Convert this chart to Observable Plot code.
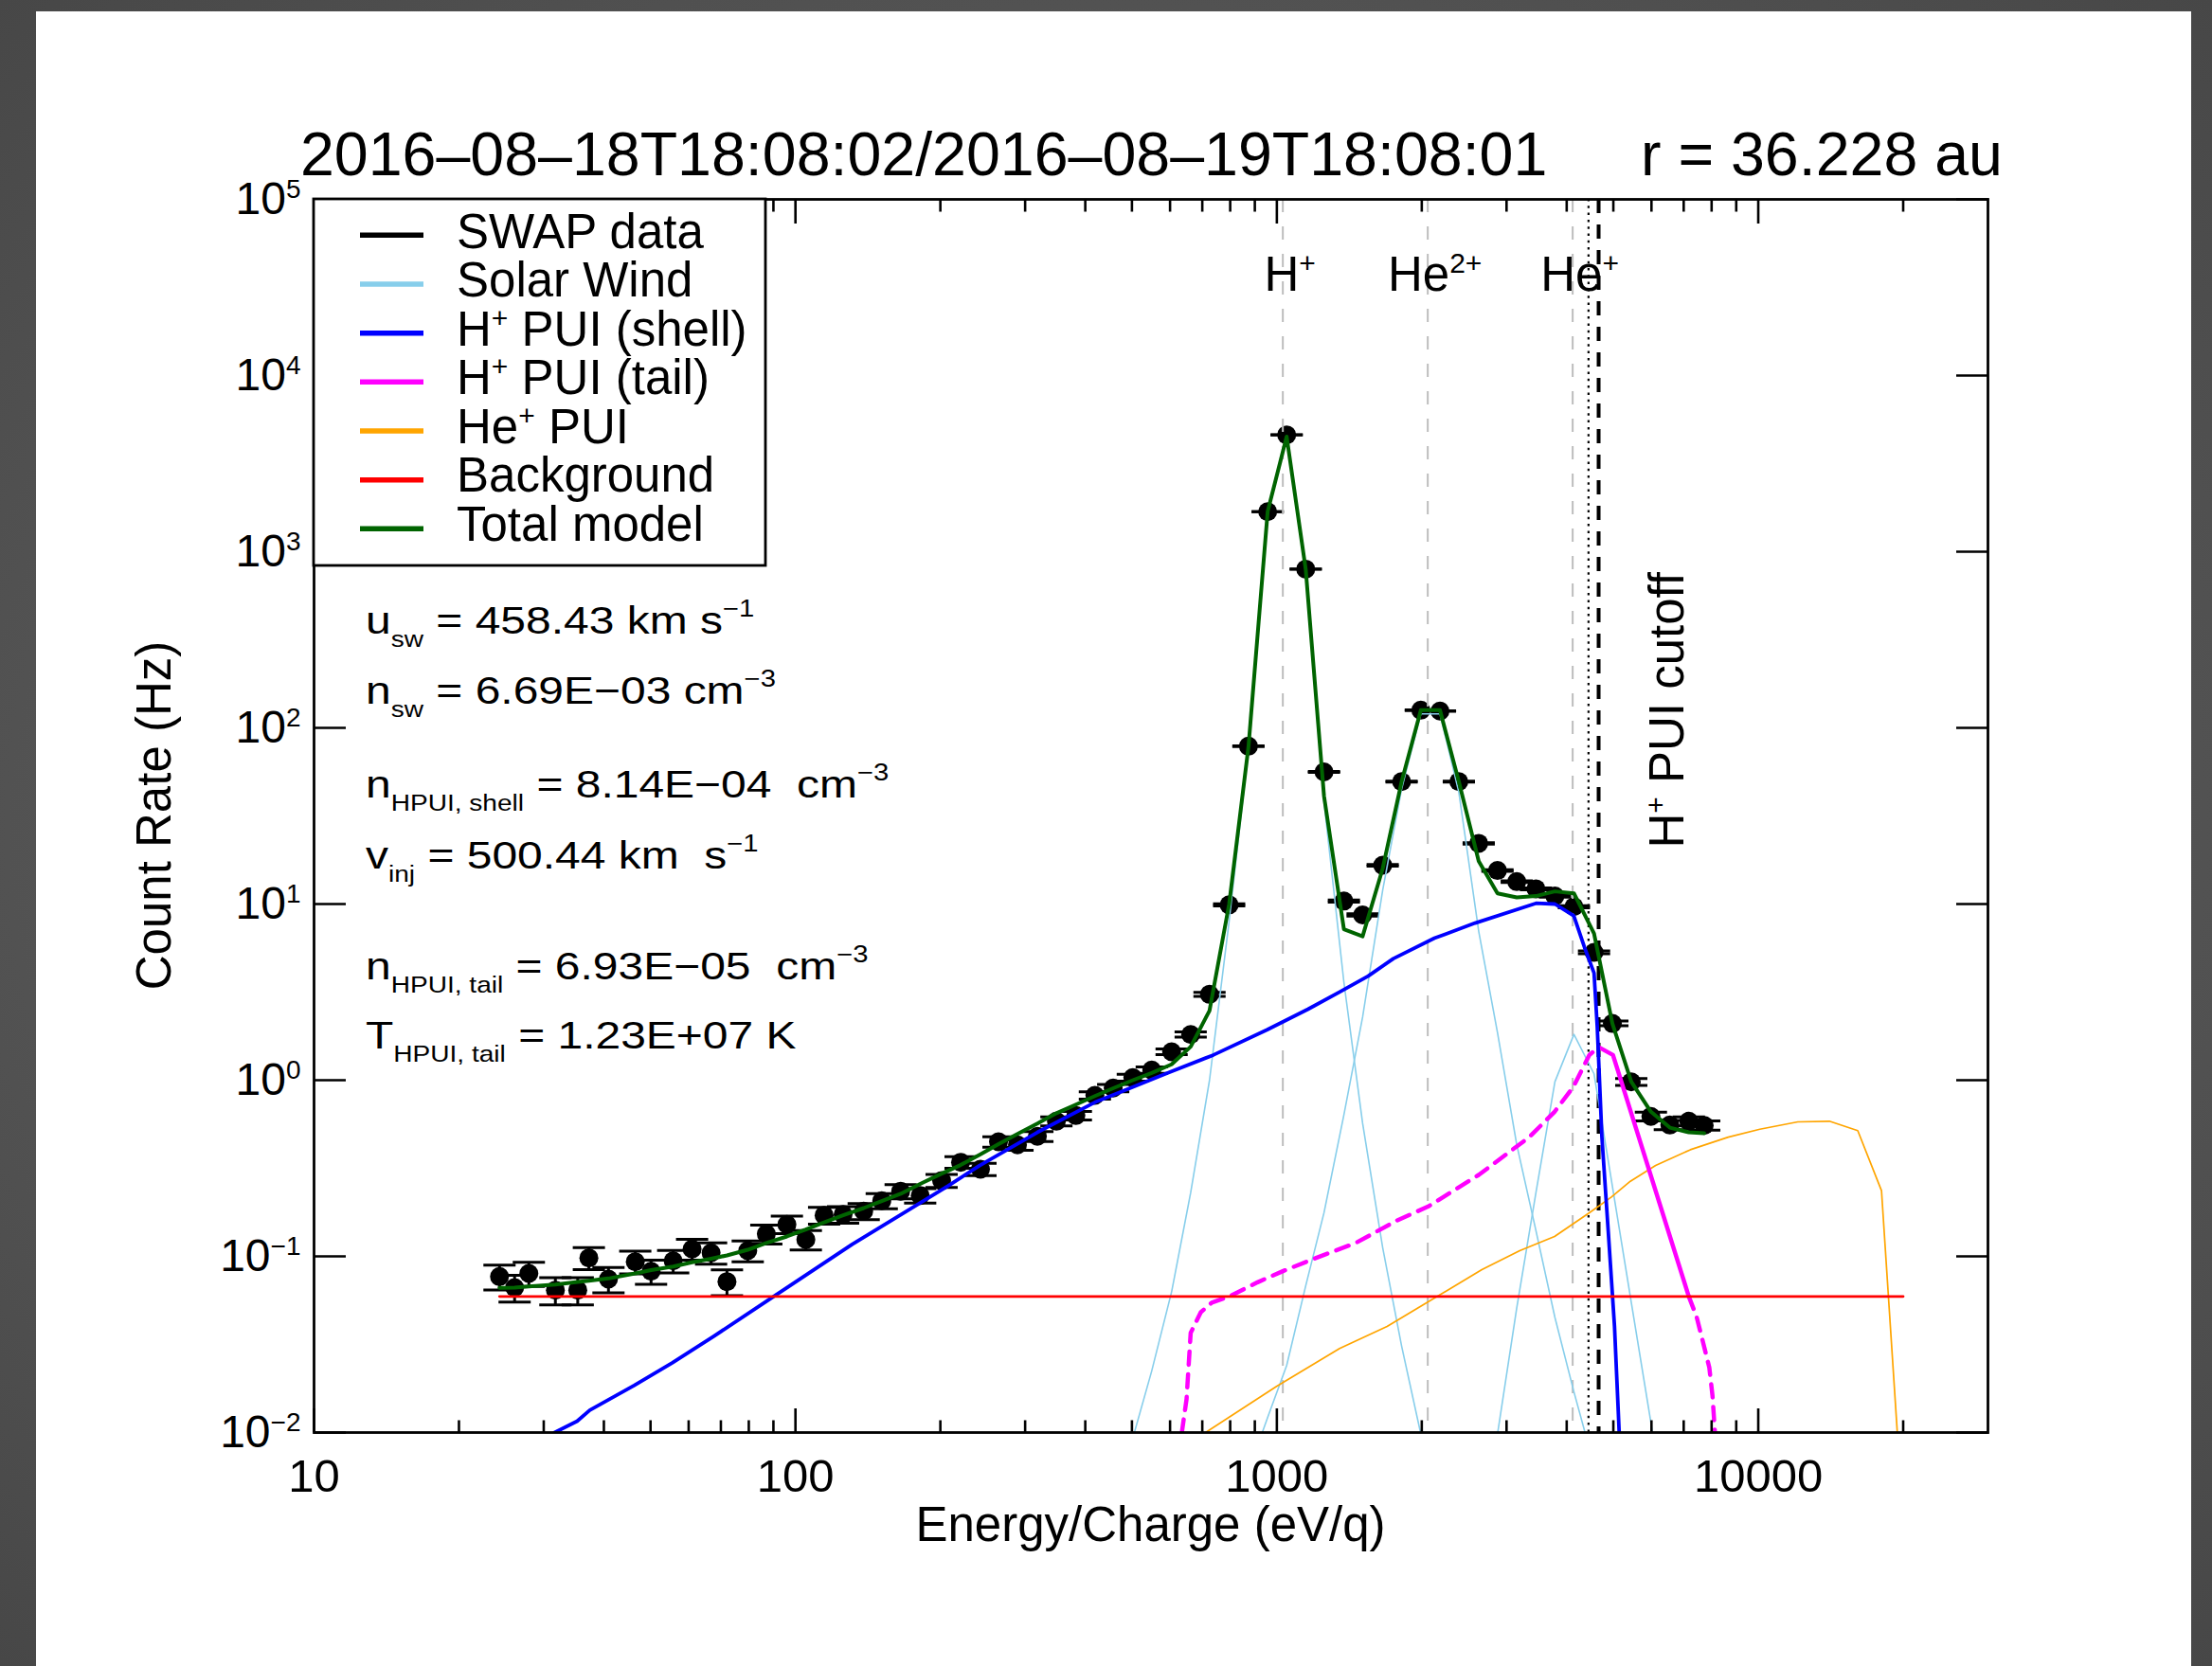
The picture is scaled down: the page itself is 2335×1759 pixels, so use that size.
<!DOCTYPE html>
<html><head><meta charset="utf-8">
<script src="https://cdn.jsdelivr.net/npm/d3@7"></script>
<script src="https://cdn.jsdelivr.net/npm/@observablehq/plot@0.6"></script>
<style>
html,body{margin:0;padding:0;}
body{width:2335px;height:1759px;overflow:hidden;position:relative;background:#4e4e4e;
 background-image:radial-gradient(ellipse at 50% 50%, #6c6c6c 0%, #474747 100%);
 font-family:"Liberation Sans",Arial,Helvetica,sans-serif;}
#panel{position:absolute;left:38px;top:12px;width:2275px;height:1747px;background:#fff;}
#chart{position:absolute;left:0;top:0;}
</style></head>
<body><div id="panel"></div><div id="chart"></div>
<script>
// ---------------- data ----------------
const energy = [24.28, 26.10, 27.94, 31.72, 35.30, 37.23, 40.89, 46.48, 50.13, 55.72,
  61.0, 66.8, 72.07, 79.6, 87.0, 96.0, 105.1, 114.7, 125.6, 138.6,
  151.1, 165.4, 181.6, 201.2, 220.3, 242.3, 264.1, 289.2, 318.1, 348.4,
  382.4, 418.8, 457.1, 502.1, 549.7, 604.5, 662.2, 724.6, 796, 873,
  957, 1048, 1148, 1253, 1378, 1507, 1659, 1816, 1991, 2182,
  2388, 2626, 2873, 3150, 3453, 3781, 4141, 4559, 4977, 5448,
  5984, 6551, 7173, 7722];
const countRate = [0.0768, 0.0665, 0.080, 0.0643, 0.0643, 0.098, 0.0743, 0.0932, 0.0823, 0.0943,
  0.110, 0.1047, 0.0719, 0.1077, 0.134, 0.1518, 0.1245, 0.171, 0.173, 0.1805,
  0.2068, 0.234, 0.2216, 0.269, 0.342, 0.3124, 0.447, 0.4294, 0.48, 0.585,
  0.63, 0.82, 0.9024, 1.034, 1.141, 1.45, 1.818, 3.073, 9.9, 78.7,
  1687, 4605, 796, 56.2, 10.4, 8.67, 16.6, 49.5, 126, 124.6,
  49.5, 22.1, 15.5, 13.4, 12.2, 11.1, 9.66, 5.32, 2.10, 0.979,
  0.6224, 0.5567, 0.585, 0.554];
const countErr = [0.0124, 0.0115, 0.0126, 0.0113, 0.0113, 0.0140, 0.0122, 0.0137, 0.0128, 0.0137,
  0.0148, 0.0145, 0.0120, 0.0147, 0.0164, 0.0174, 0.0158, 0.0185, 0.0186, 0.0190,
  0.0203, 0.0216, 0.0211, 0.0232, 0.0262, 0.0250, 0.0299, 0.0293, 0.0310, 0.0342,
  0.0355, 0.0405, 0.0425, 0.0455, 0.0478, 0.0539, 0.0603, 0.0784, 0.141, 0.397,
  1.84, 3.03, 1.26, 0.335, 0.144, 0.132, 0.182, 0.315, 0.502, 0.499,
  0.315, 0.210, 0.176, 0.164, 0.156, 0.149, 0.139, 0.103, 0.0648, 0.0442,
  0.0353, 0.0334, 0.0342, 0.0333];
const totalModel = [0.0662, 0.0664, 0.0675, 0.0692, 0.0715, 0.0728, 0.0749, 0.080, 0.0835, 0.0876,
  0.0925, 0.097, 0.1013, 0.109, 0.119, 0.1297, 0.142, 0.156, 0.171, 0.188,
  0.206, 0.2264, 0.258, 0.295, 0.33, 0.38, 0.434, 0.4955, 0.567, 0.65,
  0.727, 0.813, 0.90, 1.0, 1.10, 1.23, 1.55, 2.48, 10.0, 78,
  1690, 4498, 796, 41.0, 7.2, 6.55, 15.9, 49.5, 126, 126,
  49.5, 17.5, 11.5, 10.9, 11.1, 11.8, 11.5, 6.8, 2.1, 0.98,
  0.662, 0.538, 0.506, 0.5];

// Solar wind components (H+, He2+, He+)
const swHEnergy = [457.1, 502.1, 549.7, 604.5, 662.2, 724.6, 796, 873, 957, 1048, 1148, 1253, 1378, 1507, 1659, 1816, 1991, 2182];
const swHRate   = [0.003, 0.0093, 0.0224, 0.063, 0.23, 1.0, 8.0, 76, 1680, 4490, 790, 38, 3.6, 0.57, 0.112, 0.031, 0.0098, 0.003];
const swHe2Energy = [873, 957, 1048, 1148, 1253, 1378, 1507, 1659, 1816, 1991, 2182, 2388, 2626, 2873, 3150, 3453, 3781, 4141, 4559];
const swHe2Rate   = [0.006, 0.0122, 0.024, 0.068, 0.177, 0.635, 2.28, 12, 45, 120, 120, 43, 7.0, 1.86, 0.43, 0.14, 0.045, 0.017, 0.0065];
const swHe1Energy = [2626, 2873, 3150, 3453, 3781, 4141, 4559, 4977, 5448, 5984, 6551];
const swHe1Rate   = [0.003, 0.0098, 0.051, 0.23, 0.98, 1.82, 1.087, 0.25, 0.0547, 0.0114, 0.002];

// H+ PUI shell
const shellEnergy = [31.6, 35.2, 37.4, 46.2, 55.5, 67.9, 90.1, 131.1, 207.5, 241.3, 318.1, 418.8, 469.2, 597.2, 738.1, 954.4, 1161, 1350, 1547, 1746, 2125, 2581, 3454, 3781, 4138, 4357, 4559, 4629, 4734, 4880, 5028, 5142];
const shellRate   = [0.01, 0.0116, 0.0134, 0.0185, 0.0249, 0.0354, 0.0592, 0.117, 0.251, 0.328, 0.506, 0.749, 0.848, 1.108, 1.39, 1.934, 2.53, 3.17, 3.90, 4.90, 6.4, 7.8, 10.1, 10.0, 8.57, 5.66, 4.06, 2.02, 0.475, 0.138, 0.04, 0.01];

// H+ PUI tail (dashed below cutoff / below background, solid between)
const tailLowEnergy = [634.8, 649.3, 662.2, 695, 732.4, 796, 912, 1029, 1197, 1457, 1773, 2063, 2327, 2626, 2964, 3344, 3775, 4132, 4457, 4663];
const tailLowRate   = [0.01, 0.0155, 0.0368, 0.0482, 0.0546, 0.0592, 0.0713, 0.0824, 0.0972, 0.119, 0.1595, 0.192, 0.236, 0.29, 0.3715, 0.475, 0.662, 0.92, 1.39, 1.54];
const tailMidEnergy = [4663, 4991, 7173];
const tailMidRate   = [1.54, 1.39, 0.0592];
const tailHighEnergy = [7173, 7447, 7679, 7912, 8035, 8128];
const tailHighRate   = [0.0592, 0.0453, 0.0325, 0.0234, 0.0161, 0.01];

// He+ PUI
const hePuiEnergy = [711, 998.6, 1350, 1694, 2125, 2666, 3195, 3775, 4457, 4953, 5424, 6121, 7226, 8661, 10077, 12082, 14050, 16094, 18030, 19446];
const hePuiRate   = [0.01, 0.0183, 0.030, 0.040, 0.058, 0.084, 0.1077, 0.1297, 0.1766, 0.217, 0.267, 0.328, 0.403, 0.475, 0.527, 0.58, 0.585, 0.517, 0.236, 0.01];

// Background
const backgroundEnergy = [24.28, 20000];
const backgroundRate = [0.0592, 0.0592];

// reference energies
const ionEnergies = [1029, 2058, 4116];   // H+, He2+, He+
const ionLabels = [["H", "+"], ["He", "2+"], ["He", "+"]];
const dottedEnergy = [4440];
const cutoffEnergy = [4660];

// axes
const xMajor = [10, 100, 1000, 10000];
const xMinor = [20,30,40,50,60,70,80,90,200,300,400,500,600,700,800,900,2000,3000,4000,5000,6000,7000,8000,9000,20000];
const yMajor = [1e-2, 1e-1, 1e0, 1e1, 1e2, 1e3, 1e4, 1e5];
const yExp = ["\u22122", "\u22121", "0", "1", "2", "3", "4", "5"];

// ---------------- build ----------------
const FONT = '"Liberation Sans", Arial, Helvetica, sans-serif';
const pts = energy.map((E, i) => ({E, C: countRate[i], lo: countRate[i] - countErr[i], hi: countRate[i] + countErr[i]}));
const series = (es, cs) => es.map((E, i) => ({E, C: cs[i]}));
const hbar = {draw(ctx, size) { const w = Math.sqrt(size / Math.PI); ctx.moveTo(-w, 0); ctx.lineTo(w, 0); }};

const SKY = "#87CEEB", BLUE = "#0000FF", MAG = "#FF00FF", ORANGE = "#FFA500", RED = "#FF0000", GREEN = "#006400";

const chart = Plot.plot({
  width: 2335, height: 1759,
  marginLeft: 331, marginRight: 237, marginTop: 210, marginBottom: 247,
  style: {background: "transparent", fontFamily: FONT, color: "black", overflow: "visible"},
  x: {type: "log", domain: [10, 30000], label: null},
  y: {type: "log", domain: [0.01, 1e5], label: null},
  marks: [
    Plot.ruleX(pts, {x: "E", y1: "lo", y2: "hi", stroke: "black", strokeWidth: 3}),
    Plot.dot(pts, {x: "E", y: "lo", symbol: hbar, r: 17, stroke: "black", strokeWidth: 3, fill: "none"}),
    Plot.dot(pts, {x: "E", y: "hi", symbol: hbar, r: 17, stroke: "black", strokeWidth: 3, fill: "none"}),
    Plot.dot(pts, {x: "E", y: "C", r: 10, fill: "black", stroke: "none"}),
    Plot.ruleX(ionEnergies, {stroke: "#bdbdbd", strokeWidth: 2, strokeDasharray: "14,15"}),
    Plot.ruleX(dottedEnergy, {stroke: "black", strokeWidth: 2.2, strokeDasharray: "2.5,4.8"}),
    Plot.ruleX(cutoffEnergy, {stroke: "black", strokeWidth: 4, strokeDasharray: "15,12"}),
    Plot.line(series(swHEnergy, swHRate), {x: "E", y: "C", stroke: SKY, strokeWidth: 1.6, clip: true}),
    Plot.line(series(swHe2Energy, swHe2Rate), {x: "E", y: "C", stroke: SKY, strokeWidth: 1.6, clip: true}),
    Plot.line(series(swHe1Energy, swHe1Rate), {x: "E", y: "C", stroke: SKY, strokeWidth: 1.6, clip: true}),
    Plot.line(series(hePuiEnergy, hePuiRate), {x: "E", y: "C", stroke: ORANGE, strokeWidth: 1.7, clip: true}),
    Plot.line(series(tailLowEnergy, tailLowRate), {x: "E", y: "C", stroke: MAG, strokeWidth: 4.5, strokeDasharray: "14,10", clip: true}),
    Plot.line(series(tailMidEnergy, tailMidRate), {x: "E", y: "C", stroke: MAG, strokeWidth: 4.5, clip: true}),
    Plot.line(series(tailHighEnergy, tailHighRate), {x: "E", y: "C", stroke: MAG, strokeWidth: 4.5, strokeDasharray: "14,10", clip: true}),
    Plot.line(series(shellEnergy, shellRate), {x: "E", y: "C", stroke: BLUE, strokeWidth: 3.8, clip: true}),
    Plot.line(series(backgroundEnergy, backgroundRate), {x: "E", y: "C", stroke: RED, strokeWidth: 2.8, clip: true}),
    Plot.line(series(energy, totalModel), {x: "E", y: "C", stroke: GREEN, strokeWidth: 4, clip: true}),
    Plot.frame({stroke: "black", strokeWidth: 2.8}),
    // inward ticks
    Plot.axisX(xMajor, {anchor: "bottom", tickSize: -25, strokeWidth: 2.6, fill: "none", label: null}),
    Plot.axisX(xMinor, {anchor: "bottom", tickSize: -12.5, strokeWidth: 2.6, fill: "none", label: null}),
    Plot.axisX(xMajor, {anchor: "top", tickSize: -25, strokeWidth: 2.6, fill: "none", label: null}),
    Plot.axisX(xMinor, {anchor: "top", tickSize: -12.5, strokeWidth: 2.6, fill: "none", label: null}),
    Plot.axisY(yMajor, {anchor: "left", tickSize: -34, strokeWidth: 2.6, fill: "none", label: null}),
    Plot.axisY(yMajor, {anchor: "right", tickSize: -34, strokeWidth: 2.6, fill: "none", label: null}),
    // tick labels
    Plot.axisX(xMajor, {anchor: "bottom", tickSize: 0, tickPadding: 28, fontSize: 49, fill: "black", tickFormat: d => String(d), label: null}),
    Plot.axisY(yMajor, {anchor: "left", tickSize: 0, tickPadding: 14, fontSize: 48, fill: "black", tickFormat: d => "10^" + yExp[yMajor.indexOf(d)], label: null})
  ]
});
document.getElementById("chart").appendChild(chart);

const svg = d3.select(chart);
// superscript exponents on the y tick labels
svg.selectAll('g[aria-label="y-axis tick label"] text').each(function() {
  const s = this.textContent;
  if (!s.includes("^")) return;
  const [b, e] = s.split("^");
  const t = d3.select(this);
  t.text(null);
  t.append("tspan").text(b);
  t.append("tspan").attr("dy", -17).attr("font-size", 28).text(e);
});

function rich(parent, parts, o) {
  const t = parent.append("text").attr("x", o.x || 0).attr("y", o.y || 0)
    .attr("font-size", o.size).attr("font-family", FONT).attr("fill", "black")
    .attr("text-anchor", o.anchor || "start").style("white-space", "pre");
  if (o.transform) t.attr("transform", o.transform);
  let cur = 0;
  for (const [str, kind] of parts) {
    const target = kind === "sub" ? o.subDy : kind === "sup" ? o.supDy : 0;
    const sp = t.append("tspan").text(str);
    if (target !== cur) sp.attr("dy", target - cur);
    cur = target;
    if (kind === "sub") sp.attr("font-size", o.subSize);
    if (kind === "sup") sp.attr("font-size", o.supSize);
  }
  return t;
}

const ann = svg.append("g");
// title
rich(ann, [["2016\u201308\u201318T18:08:02/2016\u201308\u201319T18:08:01"]], {x: 317, y: 185, size: 64.5});
rich(ann, [["r = 36.228 au"]], {x: 1732, y: 185, size: 64.5});

// legend
const legendItems = [
  {parts: [["SWAP data"]], color: "black"},
  {parts: [["Solar Wind"]], color: SKY},
  {parts: [["H"], ["+", "sup"], [" PUI (shell)"]], color: BLUE},
  {parts: [["H"], ["+", "sup"], [" PUI (tail)"]], color: MAG},
  {parts: [["He"], ["+", "sup"], [" PUI"]], color: ORANGE},
  {parts: [["Background"]], color: RED},
  {parts: [["Total model"]], color: GREEN}
];
ann.append("rect").attr("x", 331).attr("y", 210).attr("width", 477).attr("height", 387)
  .attr("fill", "white").attr("stroke", "black").attr("stroke-width", 2.8);
legendItems.forEach((it, i) => {
  const cy = 248.3 + i * 51.67;
  ann.append("line").attr("x1", 380).attr("x2", 447).attr("y1", cy).attr("y2", cy)
    .attr("stroke", it.color).attr("stroke-width", 5.5);
  rich(ann, it.parts, {x: 482, y: 261.7 + i * 51.55, size: 51, supSize: 30, supDy: -19});
});

// fit parameters
const params = [
  {y: 669, parts: [["u"], ["sw", "sub"], [" = 458.43 km s"], ["\u22121", "sup"]]},
  {y: 743, parts: [["n"], ["sw", "sub"], [" = 6.69E\u221203 cm"], ["\u22123", "sup"]]},
  {y: 842, parts: [["n"], ["HPUI, shell", "sub"], [" = 8.14E\u221204  cm"], ["\u22123", "sup"]]},
  {y: 917, parts: [["v"], ["inj", "sub"], [" = 500.44 km  s"], ["\u22121", "sup"]]},
  {y: 1034, parts: [["n"], ["HPUI, tail", "sub"], [" = 6.93E\u221205  cm"], ["\u22123", "sup"]]},
  {y: 1107, parts: [["T"], ["HPUI, tail", "sub"], [" = 1.23E+07 K"]]}
];
const pg = ann.append("g").attr("transform", "translate(386,0) scale(1.17,1)");
params.forEach(p => rich(pg, p.parts, {x: 0, y: p.y, size: 41, subSize: 24, subDy: 14, supSize: 25, supDy: -18}));

// ion labels
const xs = chart.scale("x");
ionEnergies.forEach((E, i) => {
  rich(ann, [[ionLabels[i][0]], [ionLabels[i][1], "sup"]],
    {x: xs.apply(E) + 8, y: 306.7, size: 51, anchor: "middle", supSize: 30, supDy: -19});
});
// cutoff label
rich(ann, [["H"], ["+", "sup"], [" PUI cutoff"]], {transform: "translate(1777,895.6) rotate(-90)", size: 51, supSize: 30, supDy: -19});

// axis titles
rich(ann, [["Count Rate (Hz)"]], {transform: "translate(180,861) rotate(-90)", size: 51, anchor: "middle"});
rich(ann, [["Energy/Charge (eV/q)"]], {x: 1214.5, y: 1627, size: 51, anchor: "middle"});
</script>
</body></html>
